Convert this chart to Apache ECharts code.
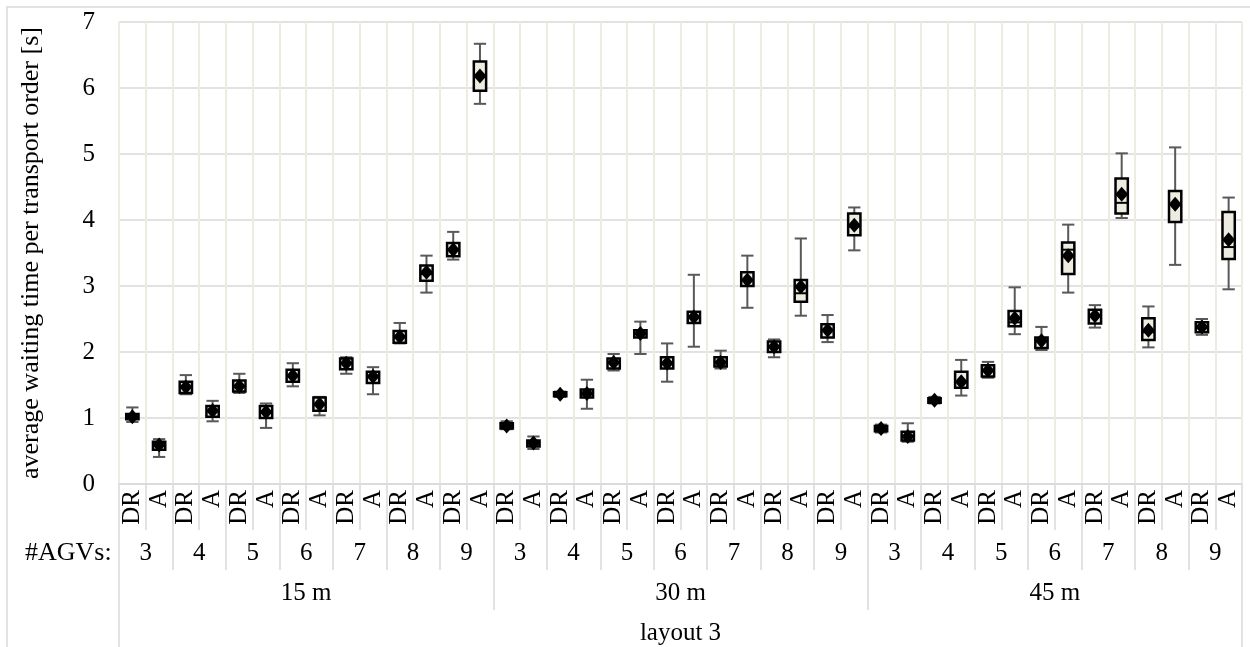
<!DOCTYPE html>
<html>
    <head>
        <meta charset="UTF-8">
        <title>layout 3 waiting time</title>
        <style type="text/css">
            body,html{ margin: 0; padding: 0; width: 100vw; height: 100vh; overflow: hidden; background: #fff;}
            .chart-box{ width: 1250px; height: 647px;}
        </style>
    </head>
    <body>
        <div class="chart-box" id="chart"></div>

        <script src="https://cdn.jsdelivr.net/npm/echarts@6.0.0/dist/echarts.min.js" type="text/javascript" charset="utf-8"></script>
        <script type="text/javascript">
            // category levels
            var methods = ['DR','A','DR','A','DR','A','DR','A','DR','A','DR','A','DR','A',
                           'DR','A','DR','A','DR','A','DR','A','DR','A','DR','A','DR','A',
                           'DR','A','DR','A','DR','A','DR','A','DR','A','DR','A','DR','A'];
            var agvCounts = ['3','4','5','6','7','8','9','3','4','5','6','7','8','9','3','4','5','6','7','8','9'];
            var distances = ['15 m', '30 m', '45 m'];
            var layouts = ['layout 3'];
            var yTicks = [0, 1, 2, 3, 4, 5, 6, 7];

            // box plot values, one entry per column
            var whiskerLow  = [0.94,0.41,1.36,0.95,1.38,0.85,1.48,1.04,1.67,1.36,2.13,2.90,3.40,5.76,
                               0.83,0.53,1.32,1.14,1.72,1.97,1.55,2.08,1.75,2.67,1.92,2.55,2.15,3.54,
                               0.78,0.64,1.22,1.34,1.61,2.27,2.03,2.90,2.37,4.03,2.07,3.32,2.26,2.95];
            var boxLow      = [0.98,0.52,1.38,1.02,1.40,1.00,1.55,1.11,1.74,1.53,2.14,3.08,3.45,5.96,
                               0.84,0.57,1.33,1.31,1.75,2.22,1.75,2.44,1.78,3.00,2.00,2.76,2.22,3.77,
                               0.80,0.66,1.23,1.46,1.63,2.39,2.06,3.18,2.43,4.10,2.18,3.97,2.30,3.41];
            var median      = [1.02,0.58,1.47,1.10,1.48,1.08,1.64,1.20,1.83,1.62,2.23,3.18,3.55,6.20,
                               0.88,0.61,1.36,1.37,1.84,2.28,1.83,2.53,1.84,3.09,2.08,2.89,2.33,3.90,
                               0.84,0.72,1.27,1.55,1.72,2.45,2.16,3.55,2.55,4.26,2.30,4.24,2.38,3.59];
            var boxHigh     = [1.06,0.64,1.55,1.18,1.57,1.18,1.73,1.31,1.90,1.70,2.32,3.31,3.65,6.40,
                               0.92,0.66,1.39,1.43,1.90,2.33,1.92,2.61,1.92,3.21,2.16,3.09,2.42,4.10,
                               0.88,0.79,1.30,1.70,1.80,2.62,2.22,3.66,2.64,4.63,2.51,4.44,2.45,4.12];
            var whiskerHigh = [1.16,0.68,1.65,1.26,1.67,1.22,1.83,1.32,1.92,1.77,2.44,3.46,3.82,6.67,
                               0.95,0.72,1.40,1.58,1.97,2.46,2.13,3.17,2.02,3.46,2.19,3.72,2.56,4.19,
                               0.90,0.92,1.32,1.88,1.85,2.98,2.38,3.93,2.71,5.01,2.69,5.10,2.50,4.34];
            var means       = [1.02,0.59,1.47,1.11,1.48,1.09,1.64,1.21,1.83,1.63,2.23,3.21,3.55,6.18,
                               0.88,0.62,1.36,1.37,1.84,2.28,1.83,2.53,1.84,3.09,2.08,2.99,2.33,3.92,
                               0.84,0.72,1.27,1.55,1.72,2.51,2.17,3.46,2.55,4.39,2.33,4.24,2.38,3.70];

            var serif = 'Liberation Serif';
            var gridColor = '#d9d9d9';
            var labelSize = 25;

            var boxData = methods.map(function (m, i) {
                return [i, whiskerLow[i], boxLow[i], median[i], boxHigh[i], whiskerHigh[i]];
            });
            var meanData = methods.map(function (m, i) {
                return [i, means[i]];
            });

            // draws whiskers, box and median line for one column
            function renderBox(params, api) {
                var x = api.value(0);
                var lo = api.coord([x, api.value(1)]);
                var q1 = api.coord([x, api.value(2)]);
                var md = api.coord([x, api.value(3)]);
                var q3 = api.coord([x, api.value(4)]);
                var hi = api.coord([x, api.value(5)]);
                var w = api.size([1, 0])[0] * 0.46;
                var cx = lo[0];
                var whisker = { stroke: '#595959', lineWidth: 2 };
                return {
                    type: 'group',
                    children: [
                        { type: 'line', shape: { x1: cx, y1: hi[1], x2: cx, y2: q3[1] }, style: whisker },
                        { type: 'line', shape: { x1: cx, y1: q1[1], x2: cx, y2: lo[1] }, style: whisker },
                        { type: 'line', shape: { x1: cx - w / 2, y1: hi[1], x2: cx + w / 2, y2: hi[1] }, style: whisker },
                        { type: 'line', shape: { x1: cx - w / 2, y1: lo[1], x2: cx + w / 2, y2: lo[1] }, style: whisker },
                        { type: 'rect', shape: { x: cx - w / 2, y: q3[1], width: w, height: q1[1] - q3[1] },
                          style: { fill: '#eeece1', stroke: '#000', lineWidth: 2.5 } },
                        { type: 'line', shape: { x1: cx - w / 2, y1: md[1], x2: cx + w / 2, y2: md[1] },
                          style: { stroke: '#000', lineWidth: 2 } }
                    ]
                };
            }

            function levelAxis(data, offset) {
                return {
                    type: 'category',
                    data: data,
                    position: 'bottom',
                    offset: offset,
                    axisLine: { show: false },
                    axisTick: { show: true, interval: 0, length: 40, lineStyle: { color: gridColor, width: 1.5 } },
                    axisLabel: { interval: 0, margin: 11, fontFamily: serif, fontSize: labelSize, color: '#000' },
                    splitLine: { show: false }
                };
            }

            var myChart = echarts.init(document.getElementById('chart'));

            var option = {
                animation: false,
                backgroundColor: '#fff',
                textStyle: { fontFamily: serif, color: '#000' },
                graphic: [
                    { type: 'rect', shape: { x: 7, y: 7, width: 1300, height: 700 },
                      style: { fill: 'none', stroke: gridColor, lineWidth: 1.5 }, silent: true },
                    { type: 'text', left: 25, top: 540,
                      style: { text: '#AGVs:', fontFamily: serif, fontSize: 26, fill: '#000' } }
                ],
                grid: { left: 119, right: 8, top: 22, bottom: 163 },
                xAxis: [
                    {
                        type: 'category',
                        data: methods,
                        boundaryGap: true,
                        axisLine: { lineStyle: { color: gridColor, width: 1.5 } },
                        axisTick: { show: true, interval: 0, length: 46, lineStyle: { color: gridColor, width: 1.5 } },
                        axisLabel: { interval: 0, rotate: 90, margin: 6, fontFamily: serif, fontSize: labelSize, color: '#000' },
                        splitLine: { show: true, interval: 0, lineStyle: { color: '#eeece1', width: 2 } }
                    },
                    levelAxis(agvCounts, 46),
                    levelAxis(distances, 86),
                    levelAxis(layouts, 126)
                ],
                yAxis: {
                    type: 'value',
                    min: yTicks[0],
                    max: yTicks[yTicks.length - 1],
                    interval: 1,
                    name: 'average waiting time per transport order [s]',
                    nameLocation: 'middle',
                    nameGap: 75,
                    nameTextStyle: { fontFamily: serif, fontSize: 26, color: '#000' },
                    axisLine: { show: false },
                    axisTick: { show: false },
                    axisLabel: { margin: 24, fontFamily: serif, fontSize: labelSize, color: '#000' },
                    splitLine: { lineStyle: { color: gridColor, width: 1.5 } }
                },
                series: [
                    {
                        type: 'custom',
                        xAxisIndex: 0,
                        renderItem: renderBox,
                        encode: { x: 0, y: [1, 2, 3, 4, 5] },
                        data: boxData,
                        z: 2
                    },
                    {
                        type: 'scatter',
                        xAxisIndex: 0,
                        symbol: 'diamond',
                        symbolSize: [13, 15],
                        itemStyle: { color: '#000', opacity: 1 },
                        data: meanData,
                        z: 3
                    }
                ]
            };

            myChart.setOption(option);
        </script>
    </body>
</html>
